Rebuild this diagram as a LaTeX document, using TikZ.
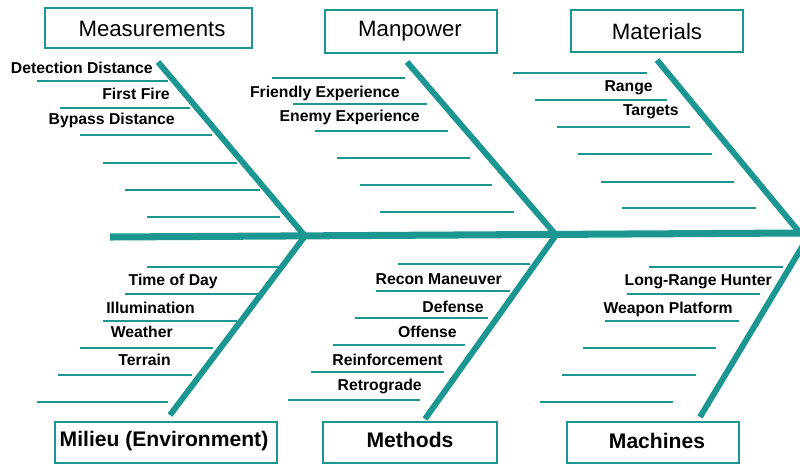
\documentclass[tikz,border=0pt]{standalone}
\usepackage{fontspec}
\setmainfont{Liberation Sans}
\definecolor{bone}{RGB}{27,150,144}
\begin{document}
\begin{tikzpicture}[x=0.025cm,y=-0.025cm,
  spineline/.style={draw=bone,line width=5pt},
  boneline/.style={draw=bone,line width=4.2pt},
  rib/.style={draw=bone,line width=1.9pt},
  headbox/.style={draw=bone,line width=1.4pt,fill=white,inner sep=0pt},
  headtxt/.style={font=\fontsize{15.8}{18}\selectfont},
  foottxt/.style={font=\bfseries\fontsize{15}{18}\selectfont},
  cause/.style={anchor=east,inner sep=0pt,text height=8pt,text depth=0pt,
    font=\bfseries\fontsize{11.2}{13}\selectfont}]
\useasboundingbox (0,0) rectangle (800,467);
\clip (0,0) rectangle (800,467);

% category boxes
\node[headbox,minimum width=207*0.025cm,minimum height=40*0.025cm] (meas) at (148.5,28) {};
\node[headtxt] (measT) at (152,29) {Measurements};
\node[headbox,minimum width=172*0.025cm,minimum height=43*0.025cm] (manp) at (411,31.5) {};
\node[headtxt] (manpT) at (410,31) {Manpower};
\node[headbox,minimum width=172*0.025cm,minimum height=42*0.025cm] (mate) at (657,31) {};
\node[headtxt] (mateT) at (657,32) {Materials};
\node[headbox,minimum width=222*0.025cm,minimum height=41*0.025cm] (mili) at (166,442.5) {};
\node[foottxt] (miliT) at (164,441) {Milieu (Environment)};
\node[headbox,minimum width=174*0.025cm,minimum height=41*0.025cm] (meth) at (410,442.5) {};
\node[foottxt] (methT) at (410,440) {Methods};
\node[headbox,minimum width=172*0.025cm,minimum height=41*0.025cm] (mach) at (653,442.5) {};
\node[foottxt] (machT) at (657,441) {Machines};

% bone ends and joints on the spine
\coordinate (tail) at (110,237);
\coordinate (j1) at (305,236);
\coordinate (j2) at (556,235);
\coordinate (head) at (800,233);
\coordinate (measB) at (158,62);
\coordinate (manpB) at (407,62);
\coordinate (mateB) at (657,60);
\coordinate (miliB) at (170,415);
\coordinate (methB) at (425,419);
\coordinate (machB) at (700,417);
\coordinate (machJ) at (808,237);

% ribs
\foreach \y/\a/\b in {81/37/168,108/60/190,135/80/212,163/103/237,190/125/260,217/147/280,
  78/272/405,104/293/427,131/315/448,158/337/470,185/360/492,212/380/514,
  73/513/647,100/535/667,127/557/690,154/578/712,182/601/734,208/622/756,
  267/147/280,294/125/258,321/103/237,348/80/213,375/58/192,402/37/168,
  264/398/530,291/376/510,318/355/488,345/333/465,372/311/444,400/288/420,
  267/649/783,294/627/760,321/605/739,348/583/716,375/562/696,402/540/673}
  \draw[rib] (\a,\y) -- (\b,\y);

% spine and bones
\draw[spineline] (tail) -- (head);
\draw[boneline] (measB) -- (j1) -- (miliB);
\draw[boneline] (manpB) -- (j2) -- (methB);
\draw[boneline] (mateB) -- (head);
\draw[boneline] (machB) -- (machJ);

% causes
\node[cause] (c1) at (153,68) {Detection Distance};
\node[cause] (c2) at (170,94) {First Fire};
\node[cause] (c3) at (175,119) {Bypass Distance};
\node[cause] (c4) at (400,92) {Friendly Experience};
\node[cause] (c5) at (420,116) {Enemy Experience};
\node[cause] (c6) at (653,86) {Range};
\node[cause] (c7) at (679,110) {Targets};
\node[cause] (c8) at (218,280) {Time of Day};
\node[cause] (c9) at (195,308) {Illumination};
\node[cause] (c10) at (173,332) {Weather};
\node[cause] (c11) at (171,360) {Terrain};
\node[cause] (c12) at (502,279) {Recon Maneuver};
\node[cause] (c13) at (484,307) {Defense};
\node[cause] (c14) at (457,332) {Offense};
\node[cause] (c15) at (443,360) {Reinforcement};
\node[cause] (c16) at (422,385) {Retrograde};
\node[cause] (c17) at (772,280) {Long-Range Hunter};
\node[cause] (c18) at (733,308) {Weapon Platform};
\end{tikzpicture}
\end{document}
